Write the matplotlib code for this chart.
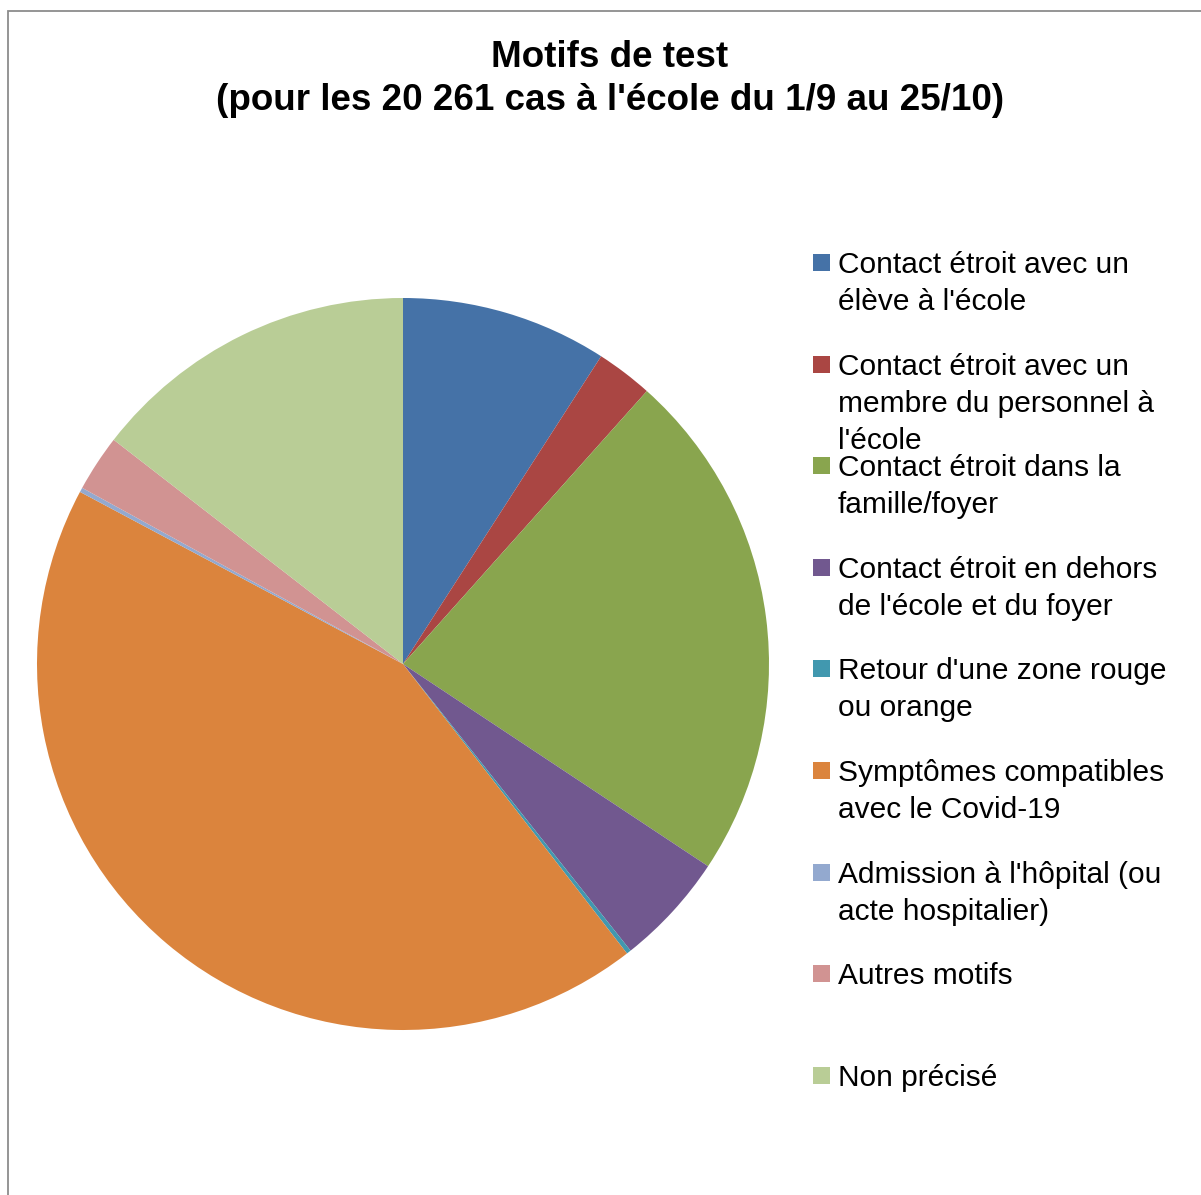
import matplotlib
matplotlib.use("Agg")
import matplotlib.pyplot as plt
from matplotlib.patches import Rectangle

plt.rcParams['font.family'] = ['Liberation Sans', 'DejaVu Sans']

W, H = 1201, 1195

title = "Motifs de test\n(pour les 20 261 cas à l'école du 1/9 au 25/10)"

labels = [
    "Contact étroit avec un\nélève à l'école",
    "Contact étroit avec un\nmembre du personnel à\nl'école",
    "Contact étroit dans la\nfamille/foyer",
    "Contact étroit en dehors\nde l'école et du foyer",
    "Retour d'une zone rouge\nou orange",
    "Symptômes compatibles\navec le Covid-19",
    "Admission à l'hôpital (ou\nacte hospitalier)",
    "Autres motifs",
    "Non précisé",
]
# share of cases, percent
shares = [9.1, 2.5, 22.7, 5.0, 0.2, 43.25, 0.2, 2.5, 14.5]
colors = ["#4572A7", "#AA4643", "#89A54E", "#71588F", "#4198AF",
          "#DB843D", "#93A9CF", "#D19392", "#B9CD96"]


def fx(px):
    return px / W


def fy(py):
    return 1 - py / H


fig = plt.figure(figsize=(W / 100, H / 100), dpi=100)

# chart border (only top and left visible)
fig.patches.append(Rectangle((fx(8), fy(1300)), fx(1300), 1289 / H,
                             transform=fig.transFigure, fill=False,
                             edgecolor="#8c8c8c", linewidth=1.3))

# pie
cx, cy, r = 403, 664, 366
ax = fig.add_axes([fx(cx - r), fy(cy + r), 2 * r / W, 2 * r / H])
ax.pie(shares, colors=colors, startangle=90, counterclock=False,
       wedgeprops=dict(linewidth=0))
ax.set_xlim(-1, 1)
ax.set_ylim(-1, 1)
ax.set_aspect("auto")
ax.axis("off")

# title
lines = title.split("\n")
for i, line in enumerate(lines):
    fig.text(fx(610), fy(67 + 43 * i), line, ha="center", va="baseline",
             fontsize=26.5, fontweight="bold")

# legend
step = 101.6
for i, (lab, col) in enumerate(zip(labels, colors)):
    top = 254 + step * i
    fig.patches.append(Rectangle((fx(813), fy(top + 17)), 17 / W, 17 / H,
                                 transform=fig.transFigure, facecolor=col,
                                 edgecolor="none"))
    for j, part in enumerate(lab.split("\n")):
        fig.text(fx(838), fy(top + 19 + 37 * j), part, ha="left",
                 va="baseline", fontsize=21.5)

fig.savefig("out.png", dpi=100)
